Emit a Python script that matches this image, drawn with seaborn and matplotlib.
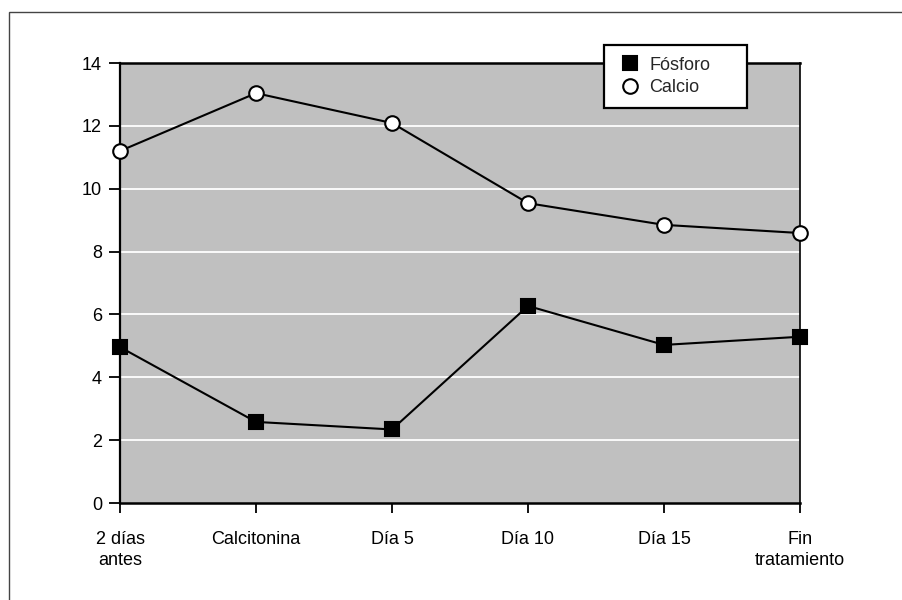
import matplotlib
matplotlib.use('Agg')
import matplotlib.pyplot as plt
import matplotlib.patches as mpatches
import seaborn as sns
import pandas as pd

# --- Data ---
categories = ['2 días\nantes', 'Calcitonina', 'Día 5', 'Día 10', 'Día 15', 'Fin\ntratamiento']
fosforo = [4.96, 2.58, 2.34, 6.27, 5.03, 5.29]
calcio = [11.2, 13.04, 12.09, 9.54, 8.85, 8.59]
y_ticks = [0, 2, 4, 6, 8, 10, 12, 14]

sns.set_style('white')
plt.rcParams['font.family'] = ['Liberation Sans', 'DejaVu Sans']

df = pd.DataFrame({
    'pos': list(range(len(categories))) * 2,
    'valor': fosforo + calcio,
    'serie': ['Fósforo'] * len(fosforo) + ['Calcio'] * len(calcio),
})

fig = plt.figure(figsize=(9.03, 6.0), dpi=100)
ax = fig.add_axes([120 / 903, 1 - 503 / 600, 680 / 903, 440 / 600])
ax.set_facecolor('#c0c0c0')

# white horizontal grid
for y in y_ticks[1:-1]:
    ax.axhline(y, color='white', lw=1.3, zorder=0.5)

styles = {
    'Fósforo': dict(marker='s', markerfacecolor='black', markeredgecolor='black'),
    'Calcio': dict(marker='o', markerfacecolor='white', markeredgecolor='black'),
}
for name, st in styles.items():
    sub = df[df['serie'] == name]
    sns.lineplot(data=sub, x='pos', y='valor', color='black', lw=1.5,
                 markersize=10.5, markeredgewidth=1.5, label=name, ax=ax,
                 clip_on=False, zorder=3, **st)

ax.set_xlim(0, len(categories) - 1)
ax.set_ylim(0, 14)
ax.set_xticks(range(len(categories)))
ax.set_xticklabels(categories, fontsize=13, linespacing=1.3)
ax.set_yticks(y_ticks)
ax.set_yticklabels([str(v) for v in y_ticks], fontsize=13)
ax.set_xlabel('')
ax.set_ylabel('')
ax.tick_params(axis='x', direction='out', length=7.5, width=1.3, pad=13, colors='black', bottom=True)
ax.tick_params(axis='y', direction='out', length=8, width=1.3, pad=5, colors='black', left=True)

for side, lw in [('left', 1.6), ('bottom', 1.8), ('top', 1.8), ('right', 1.2)]:
    ax.spines[side].set_visible(True)
    ax.spines[side].set_color('black')
    ax.spines[side].set_linewidth(lw)

# legend box spans x 604..747, top at y 45 (pixels)
x0 = (604 - 120) / 680
w = (747 - 604) / 680
leg = ax.legend(loc='upper left', bbox_to_anchor=(x0, 1 + 18 / 440 - 0.2, w, 0.2),
                mode='expand', frameon=True, fancybox=False, shadow=False, fontsize=13,
                borderpad=0.65, handlelength=1.6, handletextpad=0.25,
                labelspacing=0.3, borderaxespad=0)
leg.get_frame().set_edgecolor('black')
leg.get_frame().set_linewidth(1.6)
leg.get_frame().set_facecolor('white')
leg.get_frame().set_alpha(1)
for h in leg.legend_handles:
    h.set_linestyle('None')
leg.set_zorder(5)

# thin outer frame (only top and left edges visible)
frame = mpatches.Rectangle((9 / 903, -0.5), 2, 1.5 - 12 / 600, transform=fig.transFigure,
                           fill=False, edgecolor='#444444', lw=1.0)
fig.patches.append(frame)

fig.savefig('out.png', dpi=100)
